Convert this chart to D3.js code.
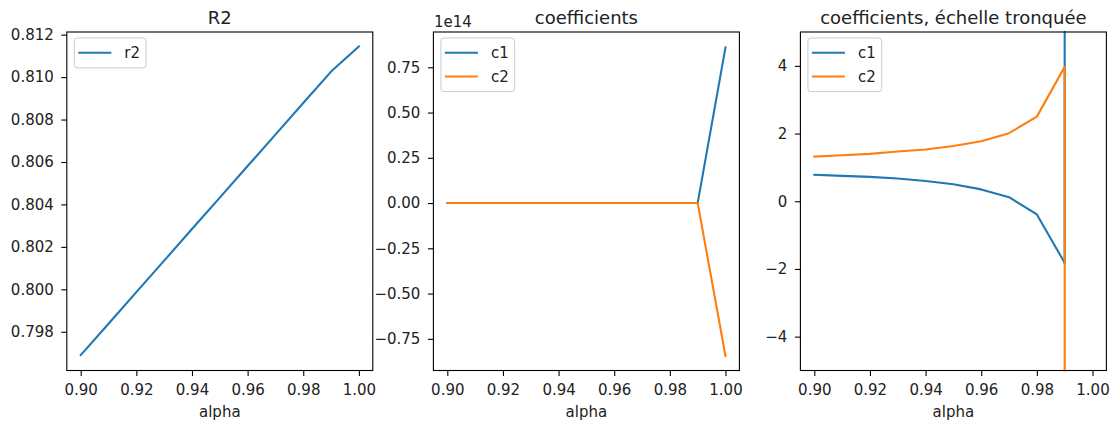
<!DOCTYPE html>
<html>
<head>
<meta charset="utf-8">
<script src="https://cdn.jsdelivr.net/npm/d3@7"></script>
<style>
  body { margin: 0; background: #fff; }
  text { font-family: "DejaVu Sans", sans-serif; fill: #222; }
</style>
</head>
<body>
<div id="plot"></div>
<script>
var width = 1111;
var height = 421;

// data
var alphas = [0.90, 0.91, 0.92, 0.93, 0.94, 0.95, 0.96, 0.97, 0.98, 0.99, 1.00];
var r2 = [0.7969, 0.79838, 0.79987, 0.80135, 0.80284, 0.80432, 0.80581, 0.80729, 0.80878, 0.81026, 0.81144];
var c1 = [0.78, 0.75, 0.72, 0.67, 0.60, 0.50, 0.35, 0.12, -0.39, -1.82, 0.86e14];
var c2 = [1.32, 1.36, 1.40, 1.47, 1.53, 1.63, 1.77, 2.01, 2.50, 3.97, -0.845e14];

var xTicks = [0.90, 0.92, 0.94, 0.96, 0.98, 1.00];
var r2Ticks = [0.798, 0.800, 0.802, 0.804, 0.806, 0.808, 0.810, 0.812];
var coefTicks = [-0.75, -0.5, -0.25, 0, 0.25, 0.5, 0.75];
var truncTicks = [-4, -2, 0, 2, 4];

var blue = '#1f77b4';
var orange = '#ff7f0e';
var fs = 15;

var top_ = 32, bottom_ = 370.5, axW = 306;
var lefts = [66.8, 433.4, 800.4];

var svg = d3.select('#plot').append('svg')
    .attr('width', width)
    .attr('height', height);

function minusFmt(f) {
    return function(d) { return f(d).replace('-', '\u2212'); };
}

// clip a polyline to the y range in data space, so huge values stay sane
function clipY(pts, lo, hi) {
    var out = [];
    for (var i = 0; i < pts.length - 1; i++) {
        var a = pts[i], b = pts[i + 1];
        var t0 = 0, t1 = 1, dy = b[1] - a[1];
        if (dy !== 0) {
            var ta = (lo - a[1]) / dy, tb = (hi - a[1]) / dy;
            t0 = Math.max(t0, Math.min(ta, tb));
            t1 = Math.min(t1, Math.max(ta, tb));
        } else if (a[1] < lo || a[1] > hi) continue;
        if (t0 > t1) continue;
        out.push([[a[0] + t0 * (b[0] - a[0]), a[1] + t0 * dy],
                  [a[0] + t1 * (b[0] - a[0]), a[1] + t1 * dy]]);
    }
    return out;
}

function panel(i, opts) {
    var left = lefts[i];
    var g = svg.append('g');
    var x = d3.scaleLinear().domain([0.895, 1.005]).range([left, left + axW]);
    var y = d3.scaleLinear().domain(opts.ydomain).range([bottom_, top_]);

    // lines
    var line = d3.line().x(function(d) { return x(d[0]); }).y(function(d) { return y(d[1]); });
    opts.series.forEach(function(s) {
        var pts = alphas.map(function(a, k) { return [a, s.values[k]]; });
        var segs = clipY(pts, opts.ydomain[0], opts.ydomain[1]);
        // merge contiguous segments into one path
        var paths = [], cur = null;
        segs.forEach(function(sg) {
            if (cur && cur[cur.length - 1][0] === sg[0][0] && cur[cur.length - 1][1] === sg[0][1]) {
                cur.push(sg[1]);
            } else {
                cur = [sg[0], sg[1]];
                paths.push(cur);
            }
        });
        paths.forEach(function(p) {
            g.append('path')
                .attr('d', line(p))
                .attr('fill', 'none')
                .attr('stroke', s.color)
                .attr('stroke-width', 2.1)
                .attr('stroke-linejoin', 'round')
                .attr('stroke-linecap', 'square');
        });
    });

    // frame
    g.append('rect')
        .attr('x', left).attr('y', top_)
        .attr('width', axW).attr('height', bottom_ - top_)
        .attr('fill', 'none').attr('stroke', '#000').attr('stroke-width', 1.1);

    // x axis
    var xa = d3.axisBottom(x).tickValues(xTicks).tickFormat(d3.format('.2f'))
        .tickSize(5.5).tickPadding(8.5);
    var gx = g.append('g').attr('transform', 'translate(0,' + bottom_ + ')').call(xa);
    gx.select('.domain').remove();
    gx.selectAll('line').attr('stroke', '#000').attr('stroke-width', 1.1);
    gx.selectAll('text').style('font-size', fs + 'px').attr('fill', '#222');

    // y axis
    var ya = d3.axisLeft(y).tickValues(opts.yticks).tickFormat(minusFmt(opts.yfmt))
        .tickSize(5.5).tickPadding(7.5);
    var gy = g.append('g').attr('transform', 'translate(' + left + ',0)').call(ya);
    gy.select('.domain').remove();
    gy.selectAll('line').attr('stroke', '#000').attr('stroke-width', 1.1);
    gy.selectAll('text').style('font-size', fs + 'px').attr('fill', '#222');

    // title and label
    g.append('text').attr('x', left + axW / 2).attr('y', 24)
        .attr('text-anchor', 'middle').style('font-size', '18px').text(opts.title);
    g.append('text').attr('x', left + axW / 2).attr('y', 416.5)
        .attr('text-anchor', 'middle').style('font-size', fs + 'px').text('alpha');

    if (opts.offset) {
        g.append('text').attr('x', left + 0.5).attr('y', 27)
            .style('font-size', fs + 'px').text(opts.offset);
    }

    // legend
    var lx = left + 7.5, ly = top_ + 6;
    var n = opts.series.length;
    var lg = g.append('g');
    var box = lg.append('rect');
    var maxW = 0;
    opts.series.forEach(function(s, k) {
        var cy = ly + 14.8 + k * 23.7;
        lg.append('line').attr('x1', lx + 4).attr('x2', lx + 37)
            .attr('y1', cy).attr('y2', cy)
            .attr('stroke', s.color).attr('stroke-width', 2.1);
        var t = lg.append('text').attr('x', lx + 50).attr('y', cy).attr('dy', '0.35em')
            .style('font-size', fs + 'px').text(s.name);
        maxW = Math.max(maxW, t.node().getComputedTextLength());
    });
    box.attr('x', lx).attr('y', ly)
        .attr('width', 50 + maxW + 6)
        .attr('height', 11.2 + n * 16.7 + (n - 1) * 7 + 2)
        .attr('rx', 3).attr('ry', 3)
        .attr('fill', 'rgba(255,255,255,0.8)').attr('stroke', '#cccccc').attr('stroke-width', 1);
}

panel(0, {
    title: 'R2',
    ydomain: [0.796175, 0.812125],
    yticks: r2Ticks,
    yfmt: d3.format('.3f'),
    series: [{ name: 'r2', values: r2, color: blue }]
});

var e14 = 1e14;
panel(1, {
    title: 'coefficients',
    ydomain: [-0.925, 0.945],
    yticks: coefTicks,
    yfmt: d3.format('.2f'),
    offset: '1e14',
    series: [
        { name: 'c1', values: c1.map(function(v) { return v / e14; }), color: blue },
        { name: 'c2', values: c2.map(function(v) { return v / e14; }), color: orange }
    ]
});

panel(2, {
    title: 'coefficients, \u00e9chelle tronqu\u00e9e',
    ydomain: [-5, 5],
    yticks: truncTicks,
    yfmt: d3.format('d'),
    series: [
        { name: 'c1', values: c1, color: blue },
        { name: 'c2', values: c2, color: orange }
    ]
});
</script>
</body>
</html>
